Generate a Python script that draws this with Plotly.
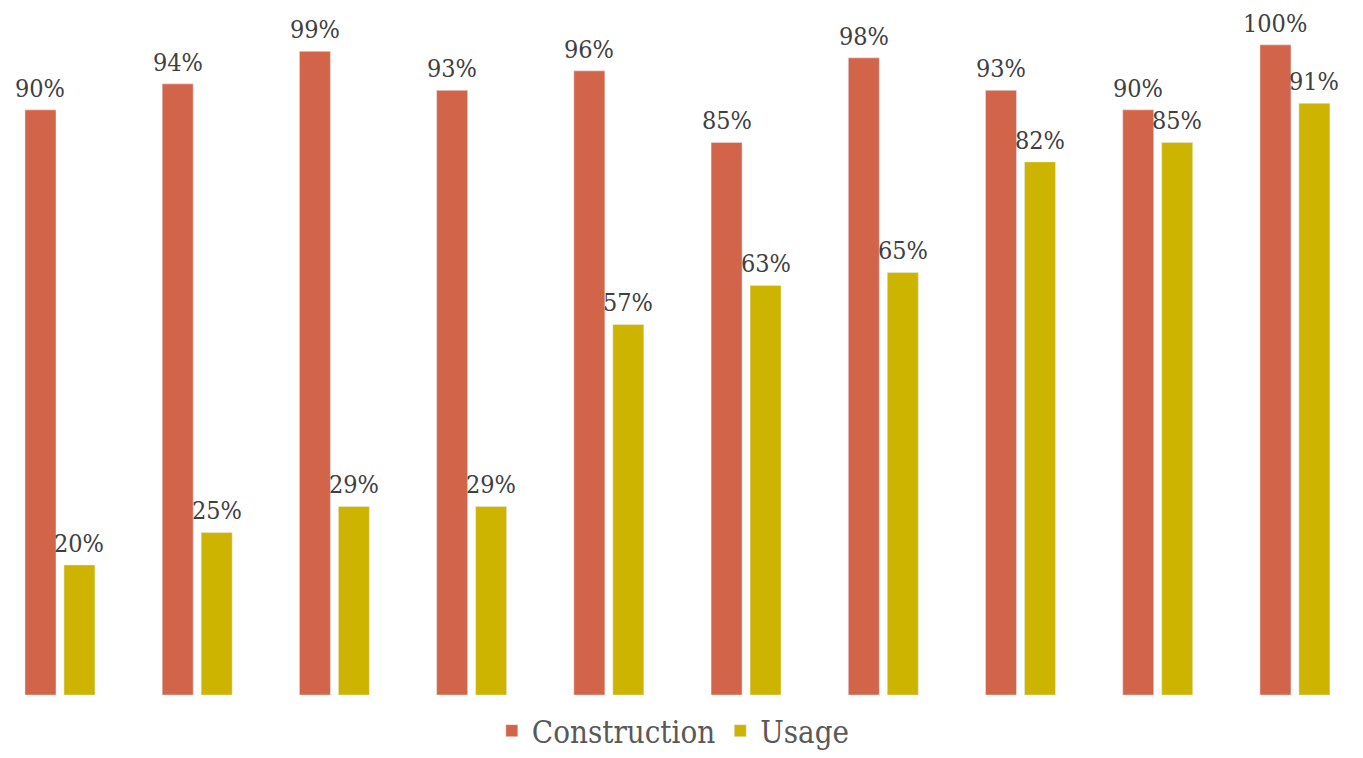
import plotly.graph_objects as go

categories = ["1", "2", "3", "4", "5", "6", "7", "8", "9", "10"]
construction = [90, 94, 99, 93, 96, 85, 98, 93, 90, 100]
usage = [20, 25, 29, 29, 57, 63, 65, 82, 85, 91]

FONT = "DejaVu Serif Condensed, DejaVu Serif"
x = list(range(len(categories)))
W, C_OFF, U_OFF = 0.226, -0.255, 0.029

fig = go.Figure()
fig.add_trace(go.Bar(
    x=x, y=construction, name="Construction",
    marker_color="#D2644A", width=W, offset=C_OFF,
))
fig.add_trace(go.Bar(
    x=x, y=usage, name="Usage",
    marker_color="#CDB400", width=W, offset=U_OFF,
))
for xs, vals, off in ((x, construction, C_OFF), (x, usage, U_OFF)):
    for xi, v in zip(xs, vals):
        fig.add_annotation(
            x=xi + off + W / 2, y=v, text=f"{v}%", showarrow=False,
            xanchor="center", yanchor="bottom", yshift=5,
            font=dict(family=FONT, size=25, color="#404040"),
        )
fig.update_layout(
    width=1363, height=758,
    margin=dict(l=0, r=0, t=0, b=63, autoexpand=False),
    plot_bgcolor="white", paper_bgcolor="white",
    barmode="group",
    showlegend=True,
    legend=dict(orientation="h", x=0.494, xanchor="center",
                yref="container", y=0.0, yanchor="bottom",
                font=dict(family=FONT, size=31, color="#595959")),
    xaxis=dict(range=[-0.437, 9.496], showticklabels=False, showgrid=False,
               zeroline=False, showline=False, ticks=""),
    yaxis=dict(range=[0, 106.9], showticklabels=False, showgrid=False,
               zeroline=False, showline=False),
)
fig.write_html("out.html", config={"displayModeBar": False},
               post_script="document.body.style.margin='0';document.body.style.overflow='hidden';")
